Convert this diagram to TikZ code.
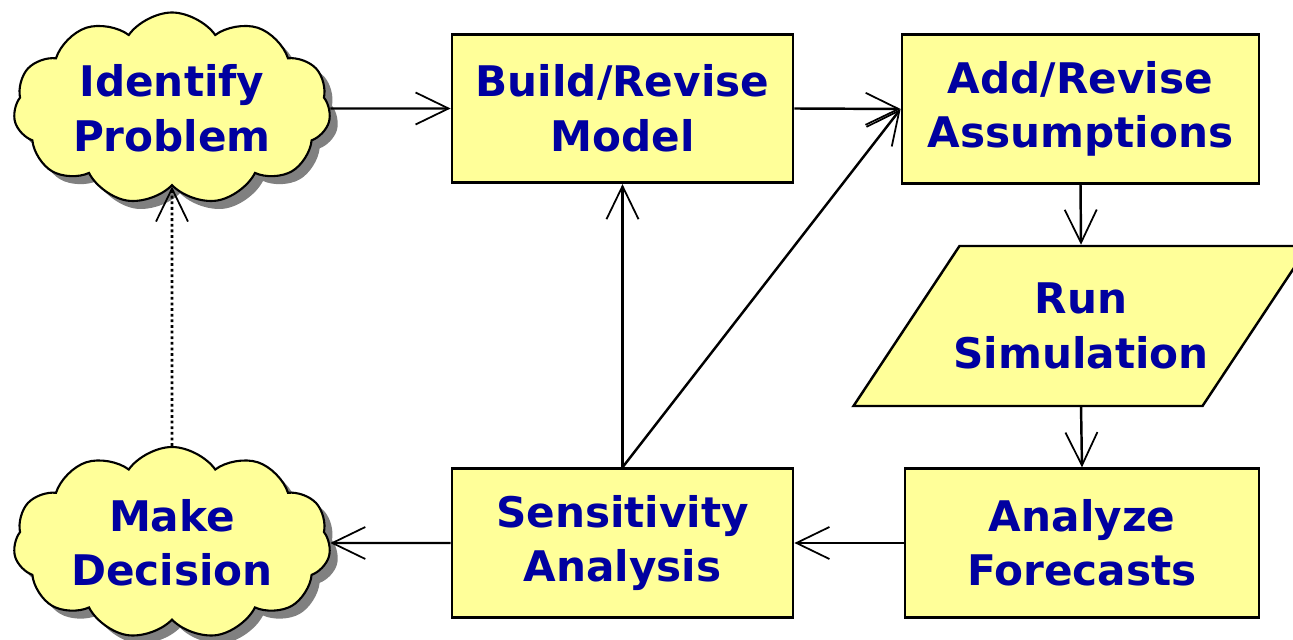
\documentclass[tikz,border=0pt]{standalone}
\usepackage{fontspec}
\setmainfont{DejaVu Sans}
\usetikzlibrary{arrows.meta,shapes.symbols,shapes.geometric,shadows}
\definecolor{paleyellow}{RGB}{255,255,153}
\definecolor{darkblue}{RGB}{0,0,160}
\definecolor{shadowgray}{RGB}{128,128,128}
\tikzset{
  label font/.style={font=\bfseries\fontsize{24}{31}\selectfont, text=darkblue, align=center},
  box/.style={label font, draw, line width=1.6pt, fill=paleyellow, minimum height=2.97cm},
  cloudy/.style={label font, cloud, cloud puffs=11, cloud puff arc=110, cloud ignores aspect,
    draw, line width=1.2pt, fill=paleyellow, minimum width=6.34cm, minimum height=3.84cm,
    drop shadow={shadow xshift=0.16cm, shadow yshift=-0.16cm, fill=shadowgray, opacity=1}},
  flow/.style={line width=1.4pt, -{Straight Barb[length=0.66cm, width=0.64cm, line width=1pt]}},
}
\begin{document}
\begin{tikzpicture}
        \useasboundingbox (0,0) rectangle (25.86,-12.8);

        \node [cloudy] (ident) at (3.44,-2.17) {Identify\\Problem};
        \node [cloudy] (decide) at (3.44,-10.86) {Make\\Decision};

        \node [box, minimum width=6.82cm] (build) at (12.45,-2.17) {Build/Revise\\Model};
        \node [box, minimum width=7.14cm] (assume) at (21.61,-2.18) {Add/Revise\\Assumptions};
        \node [label font, trapezium, trapezium left angle=39, trapezium right angle=141,
          trapezium stretches body=true, draw, line width=1.4pt, fill=paleyellow,
          minimum width=9.1cm, minimum height=3.2cm, inner ysep=0pt, inner xsep=-0.3cm] (run) at (21.62,-6.52) {Run\\Simulation};
        \node [box, minimum width=7.08cm] (forecast) at (21.64,-10.86) {Analyze\\Forecasts};
        \node [box, minimum width=6.82cm] (sens) at (12.45,-10.86) {Sensitivity\\Analysis};

        \draw [flow] (ident.east) -- (build.west);
        \draw [flow] (build.east) -- (assume.west);
        \draw [flow] (assume.south) -- (run.north);
        \draw [flow] (run.south) -- (forecast.north);
        \draw [flow] (forecast.west) -- (sens.east);
        \draw [flow] (sens.west) -- (decide.east);
        \draw [flow] (sens.north) -- (build.south);
        \draw [flow] (sens.north) -- (assume.west);
        \draw [flow, line width=1.6pt, dash pattern=on 1.6pt off 1.6pt] (decide.north) -- (ident.south);
      \end{tikzpicture}
\end{document}
